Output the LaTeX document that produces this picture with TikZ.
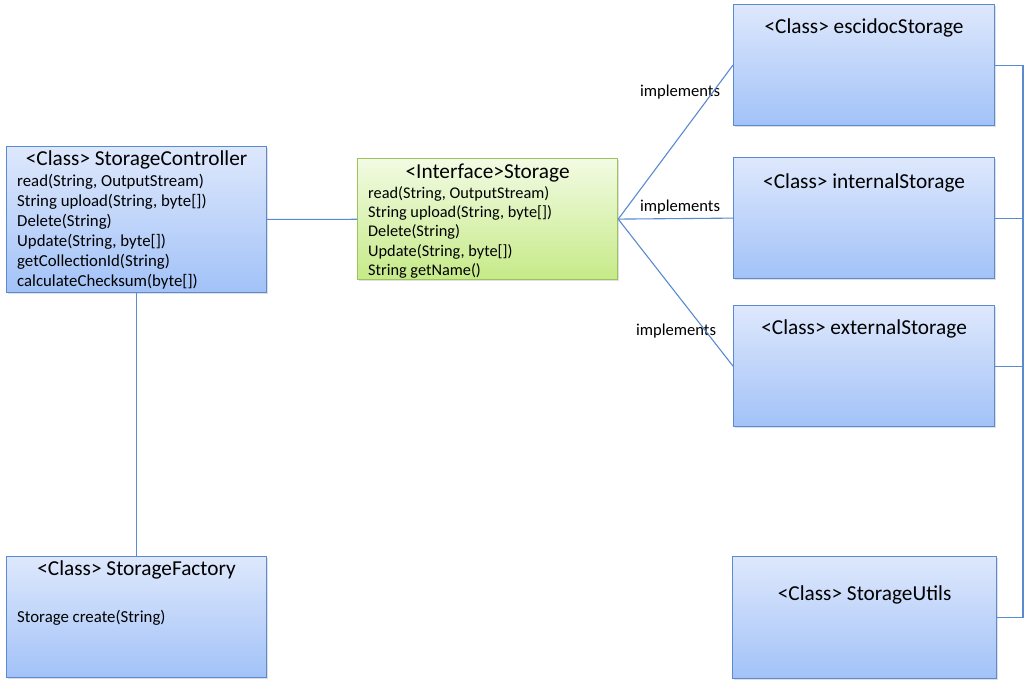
\documentclass[tikz,border=0pt]{standalone}
\usepackage{fontspec}
\setmainfont{Carlito}
\usetikzlibrary{shadows,positioning}
\definecolor{boxtop}{HTML}{DEE8FC}
\definecolor{boxbottom}{HTML}{A2C2F8}
\definecolor{boxline}{HTML}{5A8AD0}
\definecolor{ifacetop}{HTML}{F2FBE3}
\definecolor{ifacebottom}{HTML}{C6EA88}
\definecolor{ifaceline}{HTML}{9CC35C}
\definecolor{wire}{HTML}{5A8AD0}
\tikzstyle{cls}=[draw=boxline, line width=1.2pt, top color=boxtop,
  bottom color=boxbottom, anchor=north west, inner sep=0pt,
  drop shadow={opacity=.25, shadow xshift=1.5pt, shadow yshift=-1.5pt}]
\tikzstyle{iface}=[cls, draw=ifaceline, top color=ifacetop,
  bottom color=ifacebottom]
\tikzstyle{title}=[anchor=base, inner sep=0pt,
  font=\fontsize{21.3}{24}\selectfont]
\tikzstyle{methods}=[anchor=north west, inner sep=0pt, align=left,
  font=\fontsize{16.8}{20}\selectfont]

\begin{document}
\begin{tikzpicture}[x=1pt, y=-1pt]
  \useasboundingbox[fill=white] (0,0) rectangle (1024,686);
  \tikzstyle{impl}=[inner sep=0pt, font=\fontsize{16.6}{20}\selectfont]
  \tikzstyle{wire}=[draw=wire, line width=1.1pt]

  % controller and factory
  \node[cls, minimum width=260, minimum height=146] (ctrl) at (6,146) {};
  \node[title] (ctrl-t) at ([yshift=-19pt]ctrl.north) {<Class> StorageController};
  \node[methods] (ctrl-m) at ([xshift=11pt, yshift=-28pt]ctrl.north west)
    {read(String, OutputStream)\\String upload(String, byte[])\\Delete(String)\\
     Update(String, byte[])\\getCollectionId(String)\\calculateChecksum(byte[])};

  \node[cls, minimum width=260, minimum height=121] (fact) at (6,556) {};
  \node[title] (fact-t) at ([yshift=-19pt]fact.north) {<Class> StorageFactory};
  \node[methods] (fact-m) at ([xshift=11pt, yshift=-54pt]fact.north west)
    {Storage create(String)};

  % interface
  \node[iface, minimum width=260, minimum height=121] (stor) at (357,158) {};
  \node[title] (stor-t) at ([yshift=-20pt]stor.north) {<Interface>Storage};
  \node[methods, font=\fontsize{16.3}{19.3}\selectfont] (stor-m)
    at ([xshift=11pt, yshift=-28pt]stor.north west)
    {read(String, OutputStream)\\String upload(String, byte[])\\Delete(String)\\
     Update(String, byte[])\\String getName()};

  % implementations
  \node[cls, minimum width=261, minimum height=121] (esci) at (733,4) {};
  \node[title] (esci-t) at ([yshift=-29pt]esci.north) {<Class> escidocStorage};
  \node[cls, minimum width=261, minimum height=121] (intl) at (733,157) {};
  \node[title] (intl-t) at ([yshift=-31pt]intl.north) {<Class> internalStorage};
  \node[cls, minimum width=261, minimum height=121] (extl) at (733,305) {};
  \node[title] (extl-t) at ([yshift=-29pt]extl.north) {<Class> externalStorage};
  \node[cls, minimum width=264, minimum height=122] (util) at (732,556) {};
  \node[title] (util-t) at ([yshift=-44pt]util.north) {<Class> StorageUtils};

  \node[impl] (impl-1) at (680,92) {implements};
  \node[impl] (impl-2) at (680,207) {implements};
  \node[impl] (impl-3) at (676,331) {implements};

  \coordinate (bus) at (1023,65);

  \draw[wire] (ctrl) -- (stor);
  \draw[wire] (ctrl) -- (fact);
  \draw[wire] (stor.east) -- (esci.west);
  \draw[wire] (stor.east) -- (intl.west);
  \draw[wire] (stor.east) -- (extl.west);

  \draw[wire] (esci.east) -- (esci.east -| bus) |- (util.east);
  \draw[wire] (intl.east) -- (intl.east -| bus);
  \draw[wire] (extl.east) -- (extl.east -| bus);
\end{tikzpicture}
\end{document}
